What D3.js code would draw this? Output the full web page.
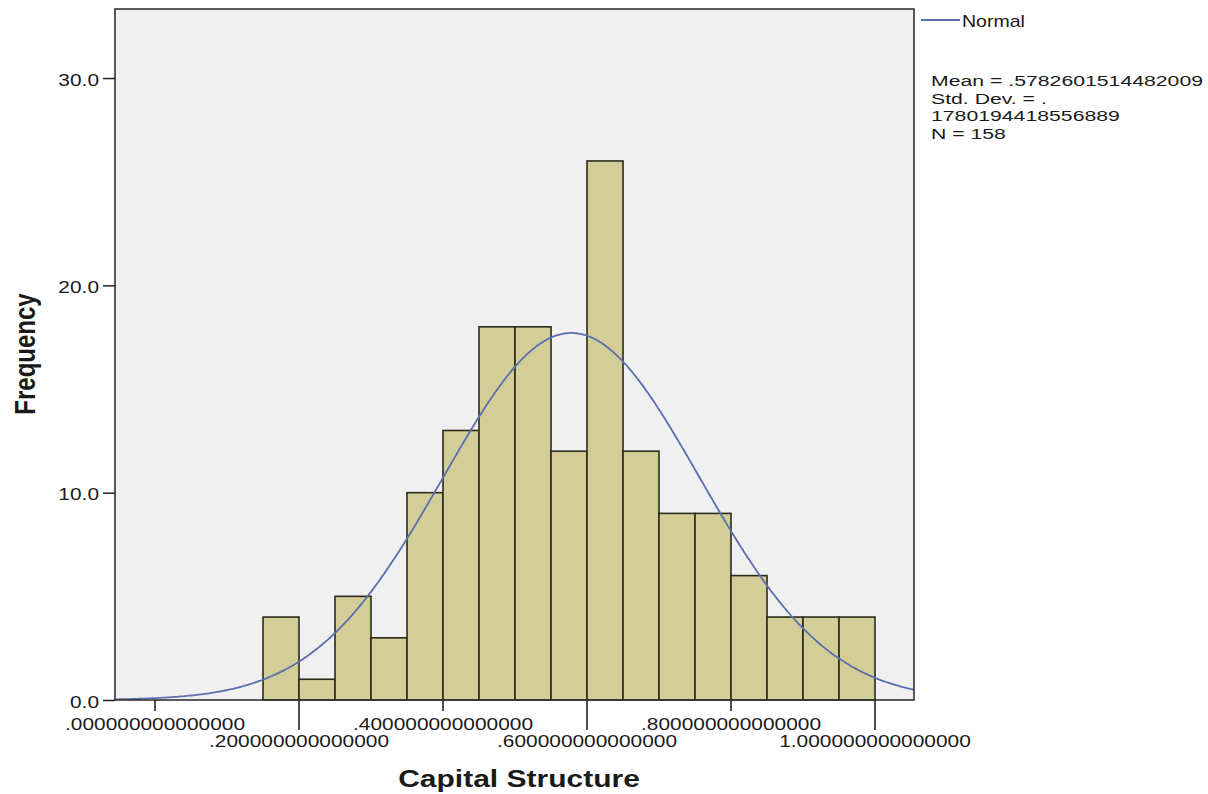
<!DOCTYPE html>
<html><head><meta charset="utf-8">
<script src="https://cdn.jsdelivr.net/npm/d3@7"></script>
<style>body{margin:0;background:#fff}svg{display:block}text{font-family:Arial,"Liberation Sans",sans-serif}</style>
</head><body>
<script>
const binStarts = [0.15,0.20,0.25,0.30,0.35,0.40,0.45,0.50,0.55,0.60,0.65,0.70,0.75,0.80,0.85,0.90,0.95];
const counts = [4,1,5,3,10,13,18,18,12,26,12,9,9,6,4,4,4];
const binWidth = 0.05;
const yTicks = [0,10,20,30];
const xTicks = [0,0.2,0.4,0.6,0.8,1.0];
const xTickLabels = [".000000000000000",".200000000000000",".400000000000000",".600000000000000",".800000000000000","1.000000000000000"];
const mean = 0.5782601514482009, sd = 0.1780194418556889, N = 158;
const statLines = ["Mean = .5782601514482009","Std. Dev. = .","1780194418556889","N = 158"];

const W=1208,H=794;
const L=115,R=914,T=9,B=700;
const svg=d3.select("body").append("svg").attr("width",W).attr("height",H);
const x=d3.scaleLinear().domain([-0.05556,1.05417]).range([L,R]);
const y=d3.scaleLinear().domain([0,33.33]).range([B,T]);

function stext(parent,px,py,str,size,sx,anchor,weight,rot){
  const g=parent.append("g").attr("transform",`translate(${px},${py}) scale(${sx},1)`+(rot?` rotate(${rot})`:""));
  g.append("text").attr("x",0).attr("y",0).attr("text-anchor",anchor||"start")
   .attr("font-size",size).attr("font-weight",weight||"normal").attr("fill","#1a1a1a").text(str);
  return g;
}

svg.append("rect").attr("x",L).attr("y",T).attr("width",R-L).attr("height",B-T).attr("fill","#f0f0f0");
svg.append("g").selectAll("rect").data(binStarts).join("rect")
 .attr("x",d=>x(d)).attr("y",(d,i)=>y(counts[i]))
 .attr("width",d=>x(d+binWidth)-x(d)).attr("height",(d,i)=>B-y(counts[i]))
 .attr("fill","#d3ce97").attr("stroke","#2b2a1c").attr("stroke-width",1.6);

svg.append("clipPath").attr("id","clip").append("rect").attr("x",L).attr("y",T).attr("width",R-L).attr("height",B-T);
const xs=d3.range(0,401).map(i=>x.domain()[0]+(x.domain()[1]-x.domain()[0])*i/400);
const pdf=v=>N*binWidth/(sd*Math.sqrt(2*Math.PI))*Math.exp(-0.5*((v-mean)/sd)**2);
svg.append("path").attr("clip-path","url(#clip)").datum(xs)
 .attr("d",d3.line().x(d=>x(d)).y(d=>y(pdf(d))))
 .attr("fill","none").attr("stroke","#5b6fae").attr("stroke-width",1.8);

svg.append("rect").attr("x",L).attr("y",T).attr("width",R-L).attr("height",B-T).attr("fill","none").attr("stroke","#333").attr("stroke-width",1.6);

// y axis
const ya=svg.append("g").attr("transform",`translate(${L},0)`)
 .call(d3.axisLeft(y).tickValues(yTicks).tickFormat(()=>"").tickSize(12));
ya.select(".domain").remove();
ya.selectAll("line").attr("stroke","#222").attr("stroke-width",1.5);
yTicks.forEach(v=>stext(svg,99,y(v)+7.5,d3.format(".1f")(v),16.5,1.266,"end"));

// x axis
const xa=svg.append("g").attr("transform",`translate(0,${B})`);
xa.selectAll("line").data(xTicks).join("line")
 .attr("x1",d=>x(d)).attr("x2",d=>x(d)).attr("y1",0).attr("y2",(d,i)=>i%2?30:11)
 .attr("stroke","#222").attr("stroke-width",1.6);
xTicks.forEach((v,i)=>stext(svg,x(v),i%2?747:730,xTickLabels[i],16.5,1.266,"middle"));

stext(svg,519,787,"Capital Structure",24,1.25,"middle","bold");
stext(svg,35,354,"Frequency",24,1.25,"middle","bold",-90);

// legend
svg.append("line").attr("x1",921).attr("x2",960).attr("y1",20).attr("y2",20).attr("stroke","#5b6fae").attr("stroke-width",1.8);
stext(svg,962,27,"Normal",16,1.22,"start");
statLines.forEach((s,i)=>stext(svg,931,86+i*17.6,s,15.5,1.37,"start"));
</script>
</body></html>
